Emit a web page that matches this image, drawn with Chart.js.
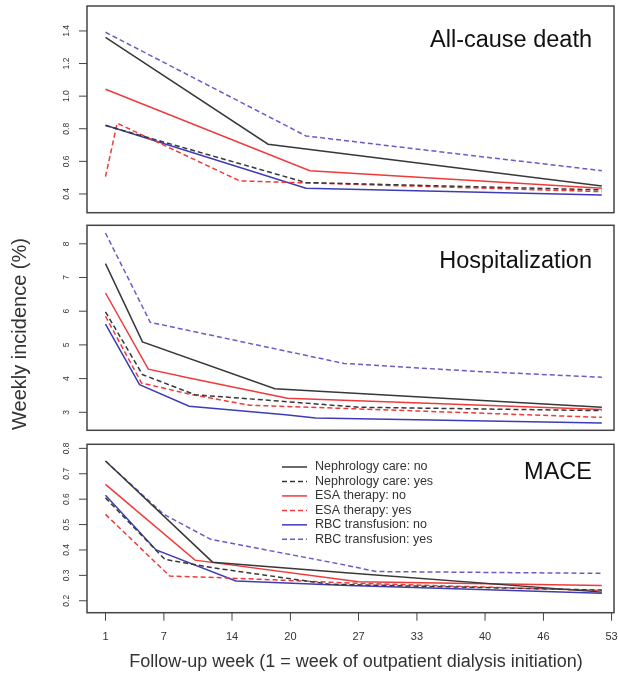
<!DOCTYPE html>
<html>
<head>
<meta charset="utf-8">
<script src="https://cdn.jsdelivr.net/npm/chart.js@4.4.1/dist/chart.umd.min.js"></script>
<style>
  body { margin: 0; background: #fff; }
  #wrap { position: relative; width: 618px; height: 678px; }
  canvas { position: absolute; left: 0; }
</style>
</head>
<body>
<div id="wrap">
  <canvas id="panelDeath" width="618" height="219" style="top:0px"></canvas>
  <canvas id="panelHosp" width="618" height="219" style="top:219px"></canvas>
  <canvas id="panelMace" width="618" height="240" style="top:438px"></canvas>
</div>
<script>
// series (same order in every panel)
const seriesLabels = ['Nephrology care: no', 'Nephrology care: yes', 'ESA therapy: no', 'ESA therapy: yes', 'RBC transfusion: no', 'RBC transfusion: yes'];
const seriesColors = ['#383838', '#383838', '#f03a3a', '#f03a3a', '#3c3cb6', '#6a5cc8'];
const seriesDashed = [false, true, false, true, false, true];

// x axis
const weekTicks = [1, 7, 14, 20, 27, 33, 40, 46, 53];

// all-cause death: [week, weekly incidence %]
const deathNephNo = [[1, 1.36], [17.7, 0.705], [52, 0.449]];
const deathNephYes = [[1, 0.82], [21.6, 0.47], [52, 0.425]];
const deathEsaNo = [[1, 1.042], [22, 0.543], [52, 0.435]];
const deathEsaYes = [[1, 0.506], [2.2, 0.834], [14.8, 0.48], [26, 0.46], [52, 0.414]];
const deathRbcNo = [[1, 0.821], [21.6, 0.435], [52, 0.394]];
const deathRbcYes = [[1, 1.392], [21.6, 0.756], [38, 0.64], [52, 0.543]];
const deathTicks = [0.4, 0.6, 0.8, 1.0, 1.2, 1.4];

// hospitalization
const hospNephNo = [[1, 7.41], [4.8, 5.09], [18.4, 3.70], [52, 3.15]];
const hospNephYes = [[1, 5.98], [4.8, 4.12], [10.2, 3.52], [19, 3.33], [27, 3.15], [52, 3.05]];
const hospEsaNo = [[1, 6.54], [5.4, 4.28], [9.6, 4.02], [19.7, 3.42], [52, 3.08]];
const hospEsaYes = [[1, 5.85], [4.7, 3.87], [9.6, 3.54], [15.8, 3.21], [26, 3.11], [52, 2.85]];
const hospRbcNo = [[1, 5.62], [4.5, 3.82], [9.6, 3.18], [19.5, 2.93], [22.6, 2.83], [52, 2.68]];
const hospRbcYes = [[1, 8.32], [5.6, 5.67], [25.5, 4.45], [38.7, 4.22], [52, 4.04]];
const hospTicks = [3, 4, 5, 6, 7, 8];

// MACE
const maceNephNo = [[1, 0.75], [12, 0.352], [25.7, 0.31], [52, 0.234]];
const maceNephYes = [[1, 0.605], [7.1, 0.363], [12, 0.33], [24, 0.265], [52, 0.242]];
const maceEsaNo = [[1, 0.658], [10.2, 0.36], [27, 0.275], [52, 0.26]];
const maceEsaYes = [[1, 0.54], [7.6, 0.297], [13.4, 0.29], [26, 0.27], [52, 0.24]];
const maceRbcNo = [[1, 0.615], [6.2, 0.40], [14.4, 0.278], [26, 0.26], [52, 0.23]];
const maceRbcYes = [[1, 0.75], [7, 0.54], [11.8, 0.442], [17.5, 0.40], [25.7, 0.34], [28.8, 0.315], [52, 0.308]];
const maceTicks = [0.2, 0.3, 0.4, 0.5, 0.6, 0.7, 0.8];

const FONT = "'Liberation Sans', Arial, sans-serif";
const INK = '#333';

const makeDatasets = (series) => series.map((pts, i) => ({
  label: seriesLabels[i],
  data: pts.map(p => ({ x: p[0], y: p[1] })),
  borderColor: seriesColors[i],
  borderDash: seriesDashed[i] ? [5, 3] : [],
  borderWidth: 1.5,
  pointRadius: 0,
  tension: 0,
  fill: false,
}));

// box, rotated y tick labels, panel title, extras
const framePlugin = {
  id: 'frame',
  afterDraw(chart, args, opts) {
    const ctx = chart.ctx;
    const area = chart.chartArea;
    const xs = chart.scales.x;
    const ys = chart.scales.y;
    ctx.save();
    ctx.strokeStyle = '#444';
    ctx.lineWidth = 1.5;
    ctx.strokeRect(area.left, area.top, area.right - area.left, area.bottom - area.top);

    ctx.fillStyle = INK;
    ctx.lineWidth = 1;
    opts.yTicks.forEach(t => {
      const y = ys.getPixelForValue(t);
      ctx.beginPath();
      ctx.moveTo(area.left - 8, y);
      ctx.lineTo(area.left, y);
      ctx.stroke();
      ctx.save();
      ctx.translate(area.left - 20, y);
      ctx.rotate(-Math.PI / 2);
      ctx.font = '8.5px ' + FONT;
      ctx.textAlign = 'center';
      ctx.textBaseline = 'middle';
      ctx.fillText(opts.yDigits ? t.toFixed(opts.yDigits) : String(t), 0, 0);
      ctx.restore();
    });

    ctx.font = '23.5px ' + FONT;
    ctx.textAlign = 'right';
    ctx.textBaseline = 'alphabetic';
    ctx.fillStyle = '#111';
    ctx.fillText(opts.title, 592, opts.titleY);

    if (opts.yTitle) {
      ctx.save();
      ctx.translate(20, opts.yTitle);
      ctx.rotate(-Math.PI / 2);
      ctx.font = '20px ' + FONT;
      ctx.textAlign = 'center';
      ctx.textBaseline = 'middle';
      ctx.fillStyle = INK;
      ctx.fillText('Weekly incidence (%)', 0, 0);
      ctx.restore();
    }

    if (opts.xAxis) {
      ctx.fillStyle = INK;
      ctx.font = '11px ' + FONT;
      ctx.textAlign = 'center';
      ctx.textBaseline = 'middle';
      weekTicks.forEach(w => {
        const x = xs.getPixelForValue(w);
        ctx.beginPath();
        ctx.moveTo(x, area.bottom);
        ctx.lineTo(x, area.bottom + 8);
        ctx.stroke();
        ctx.fillText(String(w), x, area.bottom + 24);
      });
      ctx.font = '18px ' + FONT;
      ctx.textBaseline = 'alphabetic';
      ctx.fillText('Follow-up week (1 = week of outpatient dialysis initiation)', 356, 229);
    }

    if (opts.legend) {
      chart.data.datasets.forEach((ds, i) => {
        const y = 29 + i * 14.46;
        ctx.strokeStyle = ds.borderColor;
        ctx.lineWidth = 1.5;
        ctx.setLineDash(ds.borderDash);
        ctx.beginPath();
        ctx.moveTo(282, y);
        ctx.lineTo(307, y);
        ctx.stroke();
        ctx.setLineDash([]);
        ctx.fillStyle = INK;
        ctx.font = '12.5px ' + FONT;
        ctx.textAlign = 'left';
        ctx.textBaseline = 'middle';
        ctx.fillText(ds.label, 315, y);
      });
    }
    ctx.restore();
  },
};

const makePanel = (id, series, yMin, yMax, padding, frame) => {
  new Chart(document.getElementById(id), {
    type: 'line',
    data: { datasets: makeDatasets(series) },
    options: {
      responsive: false,
      animation: false,
      layout: { padding: padding },
      scales: {
        x: { type: 'linear', min: -0.9, max: 53.25, display: false },
        y: { type: 'linear', min: yMin, max: yMax, display: false },
      },
      plugins: {
        legend: { display: false },
        tooltip: { enabled: false },
        frame: frame,
      },
    },
    plugins: [framePlugin],
  });
};

makePanel('panelDeath',
  [deathNephNo, deathNephYes, deathEsaNo, deathEsaYes, deathRbcNo, deathRbcYes],
  0.285, 1.553,
  { left: 87, right: 4, top: 6, bottom: 6.3 },
  { yTicks: deathTicks, yDigits: 1, title: 'All-cause death', titleY: 46.7 });

makePanel('panelHosp',
  [hospNephNo, hospNephYes, hospEsaNo, hospEsaYes, hospRbcNo, hospRbcYes],
  2.466, 8.549,
  { left: 87, right: 4, top: 6.3, bottom: 7.7 },
  { yTicks: hospTicks, yDigits: 0, title: 'Hospitalization', titleY: 49, yTitle: 115 });

makePanel('panelMace',
  [maceNephNo, maceNephYes, maceEsaNo, maceEsaYes, maceRbcNo, maceRbcYes],
  0.153, 0.816,
  { left: 87, right: 4, top: 6.3, bottom: 65.3 },
  { yTicks: maceTicks, yDigits: 1, title: 'MACE', titleY: 41.3, xAxis: true, legend: true });
</script>
</body>
</html>
